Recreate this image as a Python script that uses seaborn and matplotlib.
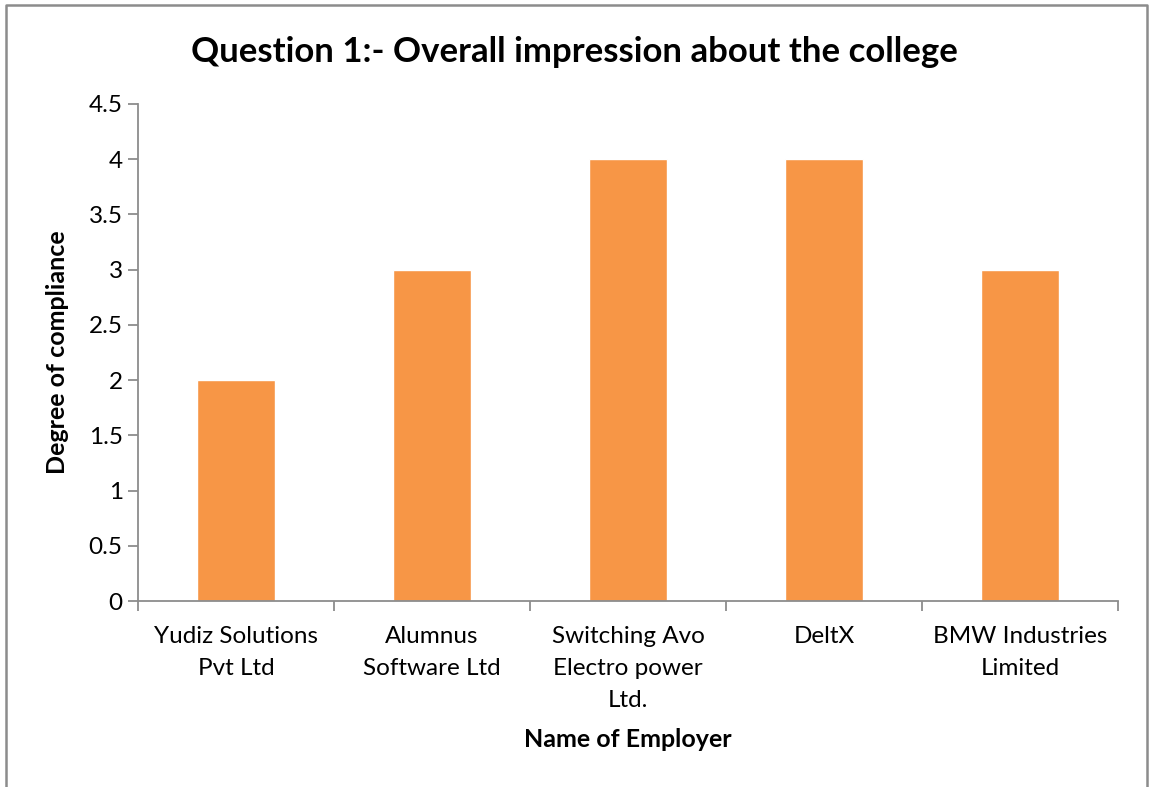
import seaborn as sns
import matplotlib.pyplot as plt
import pandas as pd
from matplotlib.lines import Line2D

# chart data
employers = ["Yudiz Solutions\nPvt Ltd", "Alumnus\nSoftware Ltd",
             "Switching Avo\nElectro power\nLtd.", "DeltX",
             "BMW Industries\nLimited"]
scores = [2, 3, 4, 4, 3]
y_ticks = [0, 0.5, 1, 1.5, 2, 2.5, 3, 3.5, 4, 4.5]

sns.set_style("white")
plt.rcParams['font.family'] = ['Lato', 'DejaVu Sans']
plt.rcParams.update({'text.color': 'black', 'axes.labelcolor': 'black',
                     'xtick.color': 'black', 'ytick.color': 'black'})

df = pd.DataFrame({"employer": employers, "score": scores})

fig = plt.figure(figsize=(11.49, 7.87), dpi=100)
ax = fig.add_axes([0.1201, 0.2363, 0.8530, 0.6316])

sns.barplot(data=df, x="employer", y="score", color="#F79646",
            saturation=1, width=0.40, ax=ax)

ax.set_xlim(-0.5, len(employers) - 0.5)
ax.set_ylim(0, 4.5)
ax.set_yticks(y_ticks)
ax.set_yticklabels([f"{t:g}" for t in y_ticks], fontsize=17.5)
ax.tick_params(axis='y', length=7, width=1.3, color="#8c8c8c", pad=4,
               left=True, labelcolor='black')

# category ticks sit between bars, like excel
ax.set_xticks([i - 0.5 for i in range(len(employers) + 1)], minor=False)
ax.set_xticklabels([])
ax.set_xticks(range(len(employers)), minor=True)
ax.set_xticklabels(employers, minor=True, fontsize=17.5, linespacing=1.65)
ax.tick_params(axis='x', which='major', length=7, width=1.3,
               color="#8c8c8c", bottom=True)
ax.tick_params(axis='x', which='minor', length=0, pad=18,
               labelcolor='black')

for s in ["top", "right"]:
    ax.spines[s].set_visible(False)
for s in ["left", "bottom"]:
    ax.spines[s].set_color("#8c8c8c")
    ax.spines[s].set_linewidth(1.3)

ax.set_xlabel("Name of Employer", fontsize=18, fontweight='bold', labelpad=12)
ax.set_ylabel("Degree of compliance", fontsize=18, fontweight='bold',
              labelpad=14)
fig.text(0.5, 0.934, "Question 1:- Overall impression about the college",
         ha='center', va='center', fontsize=25, fontweight='bold')

# chart border (left, top, right)
W, H = 1149, 787
bx = [5.5 / W, 5.5 / W, 1147 / W, 1147 / W]
by = [0, 1 - 5 / H, 1 - 5 / H, 0]
fig.add_artist(Line2D(bx, by, transform=fig.transFigure,
                      color="#8c8c8c", linewidth=1.8))

fig.savefig("out.png", dpi=100)
